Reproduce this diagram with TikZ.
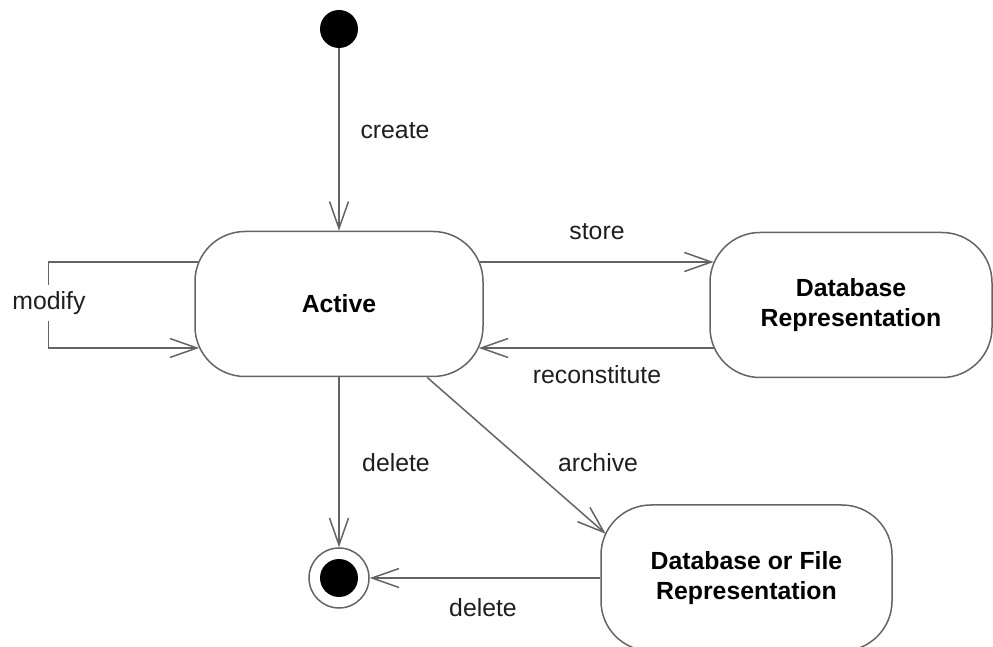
\documentclass[tikz,border=0pt]{standalone}
\usepackage{fontspec}
\setmainfont{Liberation Sans}
\usetikzlibrary{arrows.meta}
\definecolor{lc}{RGB}{100,100,100}
\definecolor{tc}{RGB}{30,30,30}
\begin{document}
\begin{tikzpicture}[x=0.5pt,y=-0.5pt,
  state/.style={draw=lc, line width=0.75pt, rounded corners=25pt, align=center,
    font=\fontsize{12.4}{15}\selectfont\bfseries, text=black, inner sep=0pt},
  lab/.style={font=\fontsize{12.4}{15}\selectfont, text=tc, inner sep=1pt},
  arr/.style={draw=lc, line width=0.75pt, -{Straight Barb[length=13.5pt,width=9.5pt]}},
  dot/.style={circle, fill=black, minimum size=19pt, inner sep=0pt},
]
\useasboundingbox (0,0) rectangle (993,647);
\node[dot] (init) at (339,29) {};
\node[state, minimum width=144pt, minimum height=72.5pt] (active) at (339,304) {Active};
\node[state, minimum width=141pt, minimum height=72.5pt] (dbrep) at (851,305) {Database\\Representation};
\node[state, minimum width=145.5pt, minimum height=73pt] (dbf) at (746.5,578) {Database or File\\Representation};
\node[circle, draw=lc, line width=0.75pt, minimum size=30pt, inner sep=0pt] (final) at (339,578) {};
\node[dot] (finaldot) at (final.center) {};

\draw[arr] (init) -- (active);
\draw[arr] ([shift={(-2pt,21pt)}]active.east) -- ([shift={(2.2pt,21.5pt)}]dbrep.west);
\draw[arr] ([shift={(2.2pt,-21.5pt)}]dbrep.west) -- ([shift={(-2.45pt,-22pt)}]active.east);
\draw[arr] ([shift={(2pt,21pt)}]active.west) -- ++(-75pt,0) |- ([shift={(2.45pt,-22pt)}]active.west);
\draw[arr] (active) -- (final);
\draw[arr] ([xshift=44pt]active.south) -- ([shift={(-70.4pt,22.1pt)}]dbf.center);
\draw[arr] (dbf) -- (final);

\node[lab] (lcreate) at (395,131) {create};
\node[lab] (lstore) at (597,232) {store};
\node[lab] (lrec) at (597,375) {reconstitute};
\node[lab] (ldel1) at (396,463) {delete};
\node[lab] (larch) at (598,463) {archive};
\node[lab] (ldel2) at (483,608) {delete};
\node[lab, fill=white, inner sep=3pt] (lmod) at (49,303) {modify};
\end{tikzpicture}
\end{document}
